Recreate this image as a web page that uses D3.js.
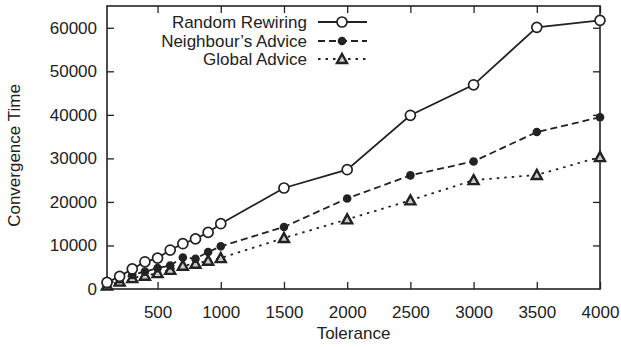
<!DOCTYPE html>
<html>
<head>
<meta charset="utf-8">
<script src="https://cdn.jsdelivr.net/npm/d3@7"></script>
<style>
  body { margin: 0; background: #fff; }
  svg { display: block; }
  text { font-family: "Liberation Sans", Arial, Helvetica, sans-serif; fill: #222; }
</style>
</head>
<body>
<svg id="chart" width="621" height="347"></svg>
<script>
const tolerance = [100, 200, 300, 400, 500, 600, 700, 800, 900, 1000, 1500, 2000, 2500, 3000, 3500, 4000];
const randomRewiring = [1500, 2900, 4600, 6250, 7100, 8950, 10400, 11500, 13000, 15000, 23200, 27400, 39900, 46900, 60100, 61700];
const neighboursAdvice = [1100, 2250, 3250, 4000, 4800, 5400, 7250, 6950, 8500, 9800, 14250, 20800, 26100, 29300, 36050, 39450];
const globalAdvice = [800, 1700, 2500, 3050, 3650, 4400, 5350, 5800, 6500, 7100, 11700, 16000, 20350, 25000, 26200, 30300];
const xTicks = [500, 1000, 1500, 2000, 2500, 3000, 3500, 4000];
const yTicks = [0, 10000, 20000, 30000, 40000, 50000, 60000];
const seriesNames = ["Random Rewiring", "Neighbour\u2019s Advice", "Global Advice"];

const svg = d3.select("#chart");
const L = 107, R = 600, T = 6, B = 289;
const ink = "#222";
const x = d3.scaleLinear().domain([100, 4000]).range([L, R]);
const y = d3.scaleLinear().domain([0, 65000]).range([B, T]);
const fs = "17px";
const fmt = d3.format("d");

// axes with inward ticks
const tick = 7;
const gx = svg.append("g").attr("transform", `translate(0,${B})`)
  .call(d3.axisBottom(x).tickValues(xTicks).tickSizeInner(-tick).tickSizeOuter(0).tickPadding(tick + 10).tickFormat(fmt));
const gxt = svg.append("g").attr("transform", `translate(0,${T})`)
  .call(d3.axisTop(x).tickValues(xTicks).tickSizeInner(-tick).tickSizeOuter(0).tickFormat(""));
const gy = svg.append("g").attr("transform", `translate(${L},0)`)
  .call(d3.axisLeft(y).tickValues(yTicks).tickSizeInner(-tick).tickSizeOuter(0).tickPadding(tick + 3).tickFormat(fmt));
const gyr = svg.append("g").attr("transform", `translate(${R},0)`)
  .call(d3.axisRight(y).tickValues(yTicks).tickSizeInner(-tick).tickSizeOuter(0).tickFormat(""));
[gx, gxt, gy, gyr].forEach(g => {
  g.select(".domain").remove();
  g.selectAll(".tick line").attr("stroke", ink).attr("stroke-width", 1.3);
  g.selectAll(".tick text").style("font-size", fs).attr("fill", ink);
});
gy.selectAll(".tick").filter(d => d === 0).select("line").remove();
gyr.selectAll(".tick").filter(d => d === 0).select("line").remove();

// frame
svg.append("rect").attr("x", L).attr("y", T).attr("width", R - L).attr("height", B - T)
  .attr("fill", "none").attr("stroke", ink).attr("stroke-width", 1.6);

// axis titles
svg.append("text").attr("x", (L + R) / 2).attr("y", 339).attr("text-anchor", "middle")
  .style("font-size", fs).text("Tolerance");
svg.append("text").attr("transform", `translate(20,${(T + B) / 2 + 8}) rotate(-90)`)
  .attr("text-anchor", "middle").style("font-size", fs).text("Convergence Time");

const series = [
  { name: seriesNames[0], values: randomRewiring, dash: null, marker: "circle" },
  { name: seriesNames[1], values: neighboursAdvice, dash: "7,4", marker: "dot" },
  { name: seriesNames[2], values: globalAdvice, dash: "2.5,5", marker: "tri" }
];

function drawMarker(g, type, cx, cy) {
  if (type === "circle") {
    g.append("circle").attr("cx", cx).attr("cy", cy).attr("r", 5)
      .attr("fill", "#fff").attr("stroke", ink).attr("stroke-width", 1.7);
  } else if (type === "dot") {
    g.append("circle").attr("cx", cx).attr("cy", cy).attr("r", 4.3).attr("fill", ink);
  } else {
    const s = 5;
    g.append("path")
      .attr("d", `M${cx},${cy - s}L${cx + s},${cy + s * 0.8}L${cx - s},${cy + s * 0.8}Z`)
      .attr("fill", "#ccc").attr("stroke", ink).attr("stroke-width", 2.4).attr("stroke-linejoin", "miter");
  }
}

const line = d3.line().x((d, i) => x(tolerance[i])).y(d => y(d));
const plot = svg.append("g");
series.slice().reverse().forEach(s => {
  plot.append("path").datum(s.values).attr("d", line)
    .attr("fill", "none").attr("stroke", ink).attr("stroke-width", 1.8)
    .attr("stroke-dasharray", s.dash);
  s.values.forEach((v, i) => drawMarker(plot, s.marker, x(tolerance[i]), y(v)));
});

// legend
const lg = svg.append("g");
const rows = [22, 41, 59];
series.forEach((s, i) => {
  const yy = rows[i];
  lg.append("text").attr("x", 307).attr("y", yy).attr("dy", "0.35em").attr("text-anchor", "end")
    .style("font-size", fs).text(s.name);
  lg.append("line").attr("x1", 318).attr("x2", 367).attr("y1", yy).attr("y2", yy)
    .attr("stroke", ink).attr("stroke-width", 1.8).attr("stroke-dasharray", s.dash);
  drawMarker(lg, s.marker, 342, yy);
});
</script>
</body>
</html>
